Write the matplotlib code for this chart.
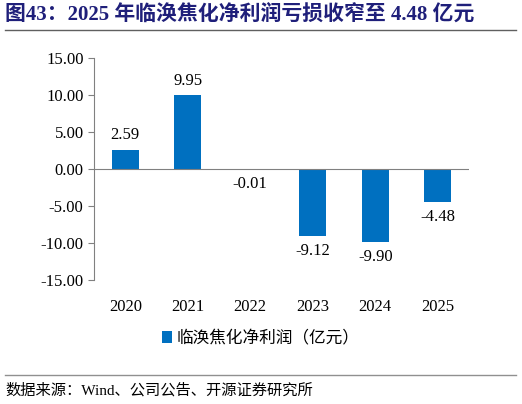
import matplotlib.pyplot as plt

plt.rcParams['font.family'] = ['Liberation Serif', 'Noto Sans CJK SC']

years = ['2020', '2021', '2022', '2023', '2024', '2025']
profit = [2.59, 9.95, -0.01, -9.12, -9.90, -4.48]
labels = ['2.59', '9.95', '-0.01', '-9.12', '-9.90', '-4.48']

fig = plt.figure(figsize=(5.22, 4.04), dpi=100)
ax = fig.add_axes([94 / 522, 1 - 280 / 404, 375 / 522, 222 / 404])

x = range(len(years))
ax.bar(x, profit, width=0.43, color='#0070C0', label='临涣焦化净利润（亿元）')
for i, (v, t) in enumerate(zip(profit, labels)):
    if v >= 0:
        ax.text(i, v + 0.9, t, ha='center', va='bottom', fontsize=12)
    else:
        ax.text(i, v - 0.9, t, ha='center', va='top', fontsize=12)

ax.set_xlim(-0.5, 5.5)
ax.set_ylim(-15, 15)
ax.set_yticks(range(-15, 16, 5))
ax.set_yticklabels([f'{v:.2f}' for v in range(-15, 16, 5)], fontsize=12)
ax.set_xticks(list(x))
ax.set_xticklabels(years, fontsize=12)
ax.tick_params(axis='x', length=0, pad=14)
ax.tick_params(axis='y', direction='out', length=4, color='#808080')
for s in ['top', 'right', 'bottom']:
    ax.spines[s].set_visible(False)
ax.spines['left'].set_color('#808080')
ax.axhline(0, color='#808080', lw=0.8)

fig.legend(loc='center', bbox_to_anchor=(0.5, 1 - 339 / 404), frameon=False,
           fontsize=12, handlelength=0.6, handletextpad=0.3)

fig.text(0.01, 1 - 15 / 404, '图43：2025 年临涣焦化净利润亏损收窄至 4.48 亿元', fontsize=15,
         fontweight='bold', color='#1F1F7A', va='center')
fig.add_artist(plt.Line2D([5 / 522, 516 / 522], [1 - 30 / 404] * 2, color='#606060', lw=1))
fig.add_artist(plt.Line2D([5 / 522, 516 / 522], [1 - 375 / 404] * 2, color='#909090', lw=1))
fig.text(0.01, 1 - 390 / 404, '数据来源：Wind、公司公告、开源证券研究所', fontsize=11, va='center')

fig.savefig('out.png', dpi=100)
